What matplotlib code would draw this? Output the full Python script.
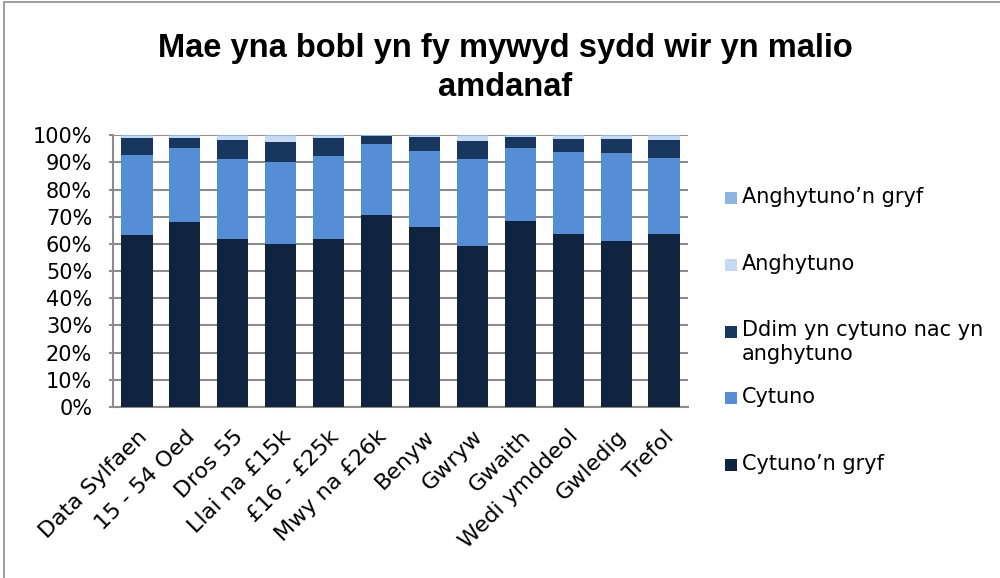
import numpy as np
import matplotlib
matplotlib.use("Agg")
import matplotlib.pyplot as plt
from matplotlib.patches import Rectangle

# categories and values (percent of respondents)
categories = ["Data Sylfaen", "15 - 54 Oed", "Dros 55", "Llai na £15k", "£16 - £25k",
              "Mwy na £26k", "Benyw", "Gwryw", "Gwaith", "Wedi ymddeol", "Gwledig", "Trefol"]
cytuno_n_gryf = [63.4, 68.0, 61.8, 59.9, 61.8, 70.8, 66.4, 59.4, 68.4, 63.7, 61.2, 63.7]
cytuno = [29.5, 27.3, 29.5, 30.3, 30.4, 26.1, 27.8, 31.9, 27.0, 30.0, 32.1, 27.9]
ddim = [6.0, 3.6, 7.1, 7.3, 6.7, 2.8, 5.1, 6.6, 3.9, 5.1, 5.5, 6.5]
anghytuno = [0.8, 0.8, 1.3, 2.2, 0.8, 0.2, 0.5, 1.8, 0.5, 0.9, 0.9, 1.6]
anghytuno_n_gryf = [0.3, 0.3, 0.3, 0.3, 0.3, 0.1, 0.2, 0.3, 0.2, 0.3, 0.3, 0.3]

series = [
    ("Cytuno’n gryf", cytuno_n_gryf, "#10243f"),
    ("Cytuno", cytuno, "#558ed5"),
    ("Ddim yn cytuno nac yn\nanghytuno", ddim, "#17375e"),
    ("Anghytuno", anghytuno, "#c6d9f1"),
    ("Anghytuno’n gryf", anghytuno_n_gryf, "#8db3e2"),
]

font = "DejaVu Sans"
W, H = 1000, 578
fig = plt.figure(figsize=(W / 100, H / 100), dpi=100)
ax = fig.add_axes([0.113, 0.296, 0.575, 0.470])

x = np.arange(len(categories))
bottom = np.zeros(len(categories))
for label, vals, color in series:
    vals = np.array(vals)
    ax.bar(x, vals, bottom=bottom, width=0.65, color=color, label=label, zorder=3)
    bottom += vals

ax.set_xlim(-0.5, len(categories) - 0.5)
ax.set_ylim(0, 100)
ax.set_yticks(np.arange(0, 101, 10))
ax.set_yticklabels([f"{v}%" for v in range(0, 101, 10)], fontsize=15, family=font)
ax.set_xticks(x)
ax.set_xticklabels(categories, rotation=45, ha="right", rotation_mode="anchor",
                   fontsize=16, family=font)
ax.tick_params(axis="x", length=0, pad=14)
ax.tick_params(axis="y", length=3, width=1.5, color="#8c8c8c", pad=12)
ax.yaxis.grid(True, color="#8c8c8c", linewidth=1.5, zorder=0)
for s in ["top", "right"]:
    ax.spines[s].set_visible(False)
for s in ["left", "bottom"]:
    ax.spines[s].set_color("#8c8c8c")
    ax.spines[s].set_linewidth(1.5)

fig.text(0.505, 1 - 68 / H, "Mae yna bobl yn fy mywyd sydd wir yn malio\namdanaf",
         ha="center", va="center", fontsize=23.5, fontweight="bold",
         family="Liberation Sans", linespacing=1.3)

# legend, drawn like the spreadsheet one: first text line of each entry evenly spaced
leg_y0, leg_step = 198, 66.75
for i, (label, vals, color) in enumerate(series[::-1]):
    yc = leg_y0 + i * leg_step
    fig.patches.append(Rectangle((725 / W, 1 - (yc + 6) / H), 12 / W, 12 / H,
                                 transform=fig.transFigure, facecolor=color,
                                 edgecolor="none"))
    fig.text(742 / W, 1 - (yc - 11) / H, label, ha="left", va="top",
             fontsize=15, family=font, linespacing=1.2)

# outer chart border
fig.patches.append(Rectangle((4 / W, -0.01), 1.05, 1 - 2 / H + 0.01, transform=fig.transFigure,
                             fill=False, edgecolor="#8c8c8c", linewidth=1.2))

fig.savefig("out.png", dpi=100)
